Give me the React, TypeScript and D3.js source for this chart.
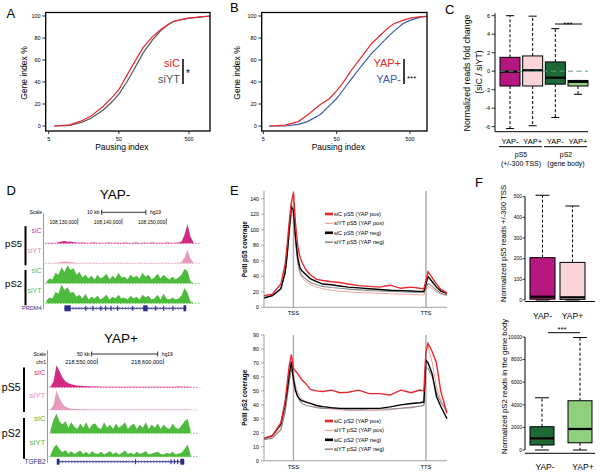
import React from "react";
import * as d3 from "d3";

const FONT = "'Liberation Sans', Arial, Helvetica, sans-serif";
const RED = "#e8262b";
const LTRED = "#f2a4a4";
const GRAY = "#8a8a8a";
const NAVY = "#2c2a8a";
const MAG = "#d22a84";
const MAG_LT = "#e59cbf";
const GREEN = "#4dbb3b";

// ---- A / B : cumulative pausing index ----
const pausingIdx = [6, 10, 15, 20, 30, 40, 50, 65, 80, 110, 150, 200, 250, 300, 400, 500, 700, 1000];
const cdfSiC = [0, 1, 5, 9, 18, 26, 33, 46, 56, 71, 81, 88, 92, 95, 97, 98, 99, 100];
const cdfSiYT = [0, 0.5, 3.5, 7, 14.5, 22, 29, 40, 50, 66, 78, 87, 92, 95, 97, 98, 99, 100];
const cdfYapPos = [0, 0.8, 4, 10, 19.5, 25, 32, 42, 51, 63, 75, 83, 89, 93, 96, 98, 99.5, 100];
const cdfYapNeg = [0, 0, 1.5, 4, 10.5, 18.5, 25, 35, 43, 55, 66, 74.5, 81, 86, 93, 96, 99, 100];
const cdfTicksY = [0, 20, 40, 60, 80, 100];
const cdfTicksX = [5, 50, 500];

// ---- C : fold change boxplots ----
const foldLabels = ["YAP-", "YAP+", "YAP-", "YAP+"];
const foldLow = [-6.2, -5.9, -5.0, -2.5];
const foldQ1 = [-1.6, -1.6, -1.4, -1.6];
const foldMed = [-0.05, 0.1, -0.7, -1.15];
const foldQ3 = [1.5, 1.65, 1.0, -1.0];
const foldHigh = [6.0, 5.95, 4.6, -1.0];
const foldTicks = [-6, -4, -2, 0, 2, 4, 6];
const foldFills = ["#b5187f", "#f9d5d8", "#1d6a36", "#8fcf80"];

// ---- D : genome browser ----
const prdm4Domain = [108122600, 108156500];
const prdm4Ticks = [108130000, 108140000, 108150000];
const prdm4Gene = [108126900, 108154600];
const prdm4Exons = [
  [108127000, 108128400], [108131700, 108131950], [108133300, 108133550], [108135100, 108135350],
  [108136200, 108136450], [108137400, 108137650], [108138900, 108139150], [108142300, 108142550],
  [108144800, 108145800], [108147500, 108147750], [108149300, 108149550], [108151400, 108151650],
  [108153900, 108154500],
];
const negS5siC = [3, 2, 3, 2, 5, 9, 12, 8, 10, 6, 4, 3, 4, 3, 2, 3, 4, 2, 3, 2, 3, 4, 2, 3, 3, 2, 4, 3, 2, 3, 4, 2, 3, 3, 2, 4, 3, 2, 3, 2, 4, 3, 2, 3, 4, 8, 45, 100, 35, 4];
const negS5siYT = [2, 2, 2, 3, 4, 7, 9, 8, 7, 4, 3, 2, 3, 2, 2, 2, 3, 2, 2, 2, 3, 2, 2, 2, 3, 2, 2, 3, 2, 2, 2, 3, 2, 2, 2, 3, 2, 2, 2, 2, 3, 2, 2, 2, 3, 6, 30, 70, 25, 3];
const negS2siC = [10, 25, 20, 55, 45, 85, 60, 95, 70, 80, 45, 60, 30, 45, 25, 40, 20, 45, 25, 35, 50, 20, 40, 25, 55, 30, 35, 20, 45, 30, 40, 25, 55, 35, 45, 20, 30, 50, 25, 45, 30, 20, 35, 20, 30, 45, 75, 65, 10, 2];
const negS2siYT = [15, 30, 25, 60, 50, 100, 70, 85, 55, 60, 35, 45, 25, 50, 20, 35, 25, 40, 20, 30, 45, 20, 35, 25, 45, 25, 30, 20, 40, 25, 35, 20, 45, 30, 40, 20, 25, 45, 20, 50, 25, 20, 30, 20, 25, 40, 80, 55, 10, 2];

const tgfb2Domain = [218513400, 218621700];
const tgfb2Ticks = [218550000, 218600000];
const tgfb2Gene = [218519300, 218615800];
const tgfb2Exons = [
  [218519300, 218521300], [218578600, 218579000], [218605400, 218605800],
  [218607900, 218608300], [218610400, 218610800], [218612900, 218615800],
];
const posS5siC = [4, 25, 100, 75, 45, 28, 18, 14, 10, 8, 7, 6, 5, 5, 4, 4, 4, 3, 3, 3, 3, 3, 3, 3, 3, 3, 3, 3, 3, 3, 3, 3, 3, 3, 3, 3, 3, 3, 3, 3, 3, 3, 3, 4, 3, 3, 3, 3];
const posS5siYT = [3, 20, 90, 55, 28, 15, 9, 6, 5, 4, 3, 3, 3, 2, 2, 2, 2, 2, 2, 2, 2, 2, 2, 2, 2, 2, 2, 2, 2, 2, 2, 2, 2, 2, 2, 2, 2, 2, 2, 2, 2, 2, 2, 2, 2, 2, 2, 2];
const posS2siC = [15, 60, 90, 55, 40, 55, 25, 50, 30, 20, 45, 25, 50, 20, 40, 45, 25, 20, 50, 25, 40, 20, 45, 25, 35, 50, 20, 35, 45, 20, 40, 25, 50, 20, 40, 25, 45, 20, 40, 25, 20, 45, 25, 20, 35, 55, 65, 15];
const posS2siYT = [8, 40, 55, 35, 20, 30, 15, 25, 12, 20, 28, 12, 22, 10, 25, 15, 12, 22, 10, 18, 25, 12, 20, 10, 18, 28, 12, 18, 10, 22, 12, 18, 25, 10, 15, 18, 22, 12, 10, 18, 12, 22, 10, 15, 18, 35, 55, 12];

// ---- E : metagene profiles ----
const metaBins = [0, 4, 8, 10, 11, 12, 13, 14, 15, 16, 17, 18, 20, 22, 25, 28, 32, 36, 40, 45, 50, 55, 60, 65, 70, 74, 76, 77, 78, 80, 82, 84, 87];
const tssBin = 14;
const ttsBin = 77;
const s5SiCPos = [15, 17, 30, 55, 80, 110, 135, 148, 108, 80, 66, 58, 48, 42, 36, 34.5, 33, 32, 30, 28, 27, 26, 28.5, 24.5, 26, 24.5, 24, 34, 46, 38, 30, 23, 18.5];
const s5SiYTPos = [14, 16, 24, 42, 65, 95, 120, 118, 82, 56, 44, 38, 33, 29, 26, 24, 22, 20.5, 20, 19, 18.5, 18, 17.5, 17, 16.5, 16, 16, 22, 27, 24, 20, 17, 15];
const s5SiCNeg = [12, 15, 24, 45, 68, 100, 130, 125, 90, 65, 52, 47, 42, 37, 33, 30, 29, 27.5, 26, 25, 24, 23, 22, 21.5, 21, 20.5, 20.5, 30, 39.5, 33, 26, 21, 18];
const s5SiYTNeg = [12, 15, 23, 43, 66, 98, 124, 122, 86, 60, 47, 41, 36, 32, 29, 27, 25.5, 24.5, 23.5, 22.5, 21.5, 21, 20.5, 20, 19.5, 19, 19, 25, 31, 27, 22, 18, 16];
const s2SiCPos = [16, 18, 27, 42, 55, 68, 76, 66, 64, 62.5, 60, 58, 55, 51, 50, 49.5, 50.5, 48.7, 49, 50.5, 48, 48, 47, 50.5, 48.7, 50.6, 50, 78, 84, 78, 70, 50, 34];
const s2SiYTPos = [15, 17, 23, 36, 47, 58, 68, 62, 54, 49, 46, 44, 42, 41, 39, 37.5, 37, 36.5, 36, 36, 36, 36, 36.5, 37.5, 38.5, 39, 40, 85, 82, 70, 53, 44, 35];
const s2SiCNeg = [16, 18, 26, 40, 50, 62, 71, 58, 50, 46, 44, 43, 42, 41, 39.5, 38.7, 38, 37.5, 37.5, 37.5, 37.5, 37.5, 38.5, 40, 41, 41.5, 42, 72, 70, 62, 46, 39, 30];
const s2SiYTNeg = [15, 16, 22, 34, 45, 56, 66, 60, 51, 46, 43, 41, 39.5, 39, 38, 37.5, 37.5, 37, 36.5, 36.5, 37, 37, 37, 37.5, 38, 39, 39.5, 67, 66, 60, 49, 42, 35];
const s5Ticks = [0, 20, 40, 60, 80, 100, 120, 140];
const s2Ticks = [0, 10, 20, 30, 40, 50, 60, 70, 80, 90];

// ---- F : read count boxplots ----
const fLabels = ["YAP-", "YAP+"];
const f5Low = [0, 0];
const f5Q1 = [4, 3];
const f5Med = [16, 13];
const f5Q3 = [205, 182];
const f5High = [507, 455];
const f5Ticks = [0, 100, 200, 300, 400, 500];
const f2Low = [0, 0];
const f2Q1 = [440, 640];
const f2Med = [1030, 1860];
const f2Q3 = [2060, 4360];
const f2High = [4620, 9950];
const f2Ticks = [0, 2000, 4000, 6000, 8000, 10000];

function CdfPanel({ x0, x1, ax5, ax500, a, b, colA, colB, nameA, nameB, keyX, stars, yLabX }: any) {
  const x = d3.scaleLog().domain([5, 500]).range([ax5, ax500]);
  const y = d3.scaleLinear().domain([0, 100]).range([126, 16]);
  const line = d3.line<number>().x((_, i) => x(pausingIdx[i])).y((d) => y(d));
  const id = `clip${Math.round(x0)}`;
  return (
    <g>
      <clipPath id={id}>
        <rect x={x0} y={12.5} width={x1 - x0} height={118.5} />
      </clipPath>
      <g clipPath={`url(#${id})`}>
        <path d={line(b) ?? ""} fill="none" stroke={colB} strokeWidth={1.2} />
        <path d={line(a) ?? ""} fill="none" stroke={colA} strokeWidth={1.2} />
      </g>
      <rect x={x0} y={12.5} width={x1 - x0} height={118.5} fill="none" stroke="#000" strokeWidth={1.3} />
      {cdfTicksY.map((t) => (
        <g key={t}>
          <line x1={x0 - 3.5} x2={x0} y1={y(t)} y2={y(t)} stroke="#000" strokeWidth={0.8} />
          <text x={x0 - 5} y={y(t)} dy="0.35em" fontSize={5.5} textAnchor="end">{t}</text>
        </g>
      ))}
      {cdfTicksX.map((t) => (
        <g key={t}>
          <line x1={x(t)} x2={x(t)} y1={131} y2={134} stroke="#000" strokeWidth={0.8} />
          <text x={x(t)} y={140.5} fontSize={5.5} textAnchor="middle">{t}</text>
        </g>
      ))}
      <text x={(x0 + x1) / 2 - 6} y={149.5} fontSize={8.5} textAnchor="middle">Pausing index</text>
      <text transform={`translate(${yLabX},73) rotate(-90)`} fontSize={8.5} textAnchor="middle">Gene index %</text>
      <text x={keyX} y={67} fontSize={11} fill={colA} textAnchor="end">{nameA}</text>
      <text x={keyX} y={82.5} fontSize={11} fill={colB} textAnchor="end">{nameB}</text>
      <line x1={keyX + 3} x2={keyX + 3} y1={59} y2={84} stroke="#000" strokeWidth={1.5} />
      <text x={keyX + 6} y={stars.length > 1 ? 81 : 77} fontSize={stars.length > 1 ? 8 : 10}>{stars}</text>
    </g>
  );
}

function Boxes({ cx, w, y, low, q1, med, q3, high, fills, capW }: any) {
  return (
    <g>
      {cx.map((c: number, i: number) => (
        <g key={i}>
          <line x1={c} x2={c} y1={y(q3[i])} y2={y(high[i])} stroke="#000" strokeWidth={1} strokeDasharray="3,2" />
          <line x1={c} x2={c} y1={y(q1[i])} y2={y(low[i])} stroke="#000" strokeWidth={1} strokeDasharray="3,2" />
          <line x1={c - capW / 2} x2={c + capW / 2} y1={y(high[i])} y2={y(high[i])} stroke="#000" strokeWidth={1} />
          <line x1={c - capW / 2} x2={c + capW / 2} y1={y(low[i])} y2={y(low[i])} stroke="#000" strokeWidth={1} />
          <rect x={c - w / 2} y={y(q3[i])} width={w} height={Math.max(1, y(q1[i]) - y(q3[i]))} fill={fills[i]} stroke="#000" strokeWidth={1} />
          <line x1={c - w / 2} x2={c + w / 2} y1={y(med[i])} y2={y(med[i])} stroke="#000" strokeWidth={2.2} />
        </g>
      ))}
    </g>
  );
}

function Track({ values, x, domain, base, h, color }: any) {
  const n = values.length;
  const step = (domain[1] - domain[0]) / n;
  const pts: [number, number][] = values.map((v: number, i: number) => [x(domain[0] + (i + 0.5) * step), v]);
  const area = d3
    .area<[number, number]>()
    .x((d) => d[0])
    .y0(base)
    .y1((d) => base - (d[1] / 100) * h);
  return (
    <g>
      <line x1={x(domain[0])} x2={x(domain[1]) + 6} y1={base} y2={base} stroke={color} strokeWidth={0.8} strokeDasharray="1.5,1.5" />
      <path d={area(pts) ?? ""} fill={color} />
    </g>
  );
}

function GeneModel({ x, gene, exons, y, dir }: any) {
  const chev = d3.range(gene[0], gene[1], (gene[1] - gene[0]) / 42).slice(1);
  return (
    <g>
      <line x1={x(gene[0])} x2={x(gene[1])} y1={y} y2={y} stroke={NAVY} strokeWidth={0.9} />
      {chev.map((g: number, i: number) => {
        const cx = x(g);
        return <path key={i} d={`M${cx - dir * 0.9},${y - 1.4} L${cx + dir * 0.9},${y} L${cx - dir * 0.9},${y + 1.4}`} fill="none" stroke={NAVY} strokeWidth={0.5} />;
      })}
      {exons.map((e: number[], i: number) => {
        const w = Math.max(1, x(e[1]) - x(e[0]));
        return <rect key={i} x={x(e[0])} y={y - (w > 2 ? 3 : 2.5)} width={w} height={w > 2 ? 6 : 5} fill={NAVY} />;
      })}
    </g>
  );
}

function Browser({ title, titleX, titleY, domain, range, ticks, gene, exons, geneName, tracks, bases, trackH, top, barKb, barStart, barY, tickY, showChr, big, groupBarX }: any) {
  const x = d3.scaleLinear().domain(domain).range(range);
  const fmt = d3.format(",");
  const labFs = big ? 10.5 : 9.5;
  const smFs = big ? 8 : 7;
  const colors = [MAG, MAG_LT, GREEN, GREEN];
  const labColors = ["#c03b8c", "#e08fb5", "#59b94b", "#59b94b"];
  const names = ["siC", "siYT", "siC", "siYT"];
  const left = range[0] - 1.5;
  return (
    <g>
      <text x={titleX} y={titleY} fontSize={13.5} textAnchor="middle">{title}</text>
      <text x={left - 1.5} y={barY + 1.8} fontSize={5} textAnchor="end">Scale</text>
      {showChr && <text x={left - 1.5} y={tickY + 2} fontSize={5} textAnchor="end">chr1</text>}
      <text x={x(barStart) - 2} y={barY + 1.8} fontSize={5.2} textAnchor="end">{barKb} kb</text>
      <line x1={x(barStart)} x2={x(barStart + barKb * 1000)} y1={barY} y2={barY} stroke="#333" strokeWidth={1} />
      <line x1={x(barStart)} x2={x(barStart)} y1={barY - 2.5} y2={barY + 2.5} stroke="#333" strokeWidth={1} />
      <line x1={x(barStart + barKb * 1000)} x2={x(barStart + barKb * 1000)} y1={barY - 2.5} y2={barY + 2.5} stroke="#333" strokeWidth={1} />
      <text x={x(barStart + barKb * 1000) + 4} y={barY + 1.8} fontSize={5}>hg19</text>
      {ticks.map((t: number) => (
        <g key={t}>
          <text x={x(t) - 1} y={tickY + 2} fontSize={big ? 5.6 : 4.9} textAnchor="end">{fmt(t)}</text>
          <line x1={x(t)} x2={x(t)} y1={tickY - 3} y2={tickY + 3} stroke="#333" strokeWidth={0.7} />
        </g>
      ))}
      <line x1={left} x2={left} y1={top} y2={bases[3] + 6} stroke="#555" strokeWidth={0.6} />
      {tracks.map((vals: number[], i: number) => (
        <Track key={i} values={vals} x={x} domain={domain} base={bases[i]} h={trackH} color={colors[i]} />
      ))}
      {names.map((n, i) => (
        <text key={i} x={left - 2} y={bases[i] - trackH * 0.55} fontSize={smFs} fill={labColors[i]} textAnchor="end">{n}</text>
      ))}
      <text x={groupBarX - 3.5} y={(bases[0] + bases[1]) / 2 - trackH * 0.35} fontSize={labFs} textAnchor="end">pS5</text>
      <text x={groupBarX - 3.5} y={(bases[2] + bases[3]) / 2 - trackH * 0.35} fontSize={labFs} textAnchor="end">pS2</text>
      <line x1={groupBarX} x2={groupBarX} y1={bases[0] - trackH * 0.9} y2={bases[1] + 2} stroke="#000" strokeWidth={2} />
      <line x1={groupBarX} x2={groupBarX} y1={bases[2] - trackH * 0.7} y2={bases[3] + 2} stroke="#000" strokeWidth={2} />
      <text x={left - 2} y={bases[3] + 7} fontSize={big ? 6.5 : 5.6} fill={NAVY} textAnchor="end">{geneName}</text>
      <GeneModel x={x} gene={gene} exons={exons} y={bases[3] + 5} dir={big ? 1 : -1} />
    </g>
  );
}

function Meta({ y0, y1, yMax, ticks, series, legend, legendTop, yLabel }: any) {
  const x = d3.scaleLinear().domain([0, 87]).range([264, 447]);
  const y = d3.scaleLinear().domain([0, yMax]).range([y0, y1]);
  const line = d3.line<number>().x((_, i) => x(metaBins[i])).y((d) => y(d));
  const colors = [LTRED, GRAY, "#000", RED];
  const widths = [1, 1.1, 1.4, 1.4];
  const legColors = [RED, LTRED, "#000", GRAY];
  const legW = [2.6, 1.3, 2.6, 1.5];
  return (
    <g>
      <line x1={x(tssBin)} x2={x(tssBin)} y1={y(yMax)} y2={y0} stroke="#aaa" strokeWidth={1.4} />
      <line x1={x(ttsBin)} x2={x(ttsBin)} y1={y(yMax)} y2={y0} stroke="#aaa" strokeWidth={1.4} />
      {series.map((s: number[], i: number) => (
        <path key={i} d={line(s) ?? ""} fill="none" stroke={colors[i]} strokeWidth={widths[i]} />
      ))}
      <line x1={264} x2={264} y1={y0} y2={y(yMax)} stroke="#888" strokeWidth={0.8} />
      <line x1={264} x2={447} y1={y0} y2={y0} stroke="#888" strokeWidth={0.8} />
      {ticks.map((t: number) => (
        <g key={t}>
          <line x1={261} x2={264} y1={y(t)} y2={y(t)} stroke="#888" strokeWidth={0.7} />
          <text x={259} y={y(t)} dy="0.35em" fontSize={5.3} textAnchor="end">{t}</text>
        </g>
      ))}
      <text x={x(tssBin)} y={y0 + 8} fontSize={5.8} textAnchor="middle">TSS</text>
      <text x={x(ttsBin)} y={y0 + 8} fontSize={5.8} textAnchor="middle">TTS</text>
      <text transform={`translate(247,${(y0 + y(yMax)) / 2}) rotate(-90)`} fontSize={6.3} fontWeight="bold" textAnchor="middle">{yLabel}</text>
      {legend.map((l: string, i: number) => (
        <g key={i}>
          <line x1={325} x2={333} y1={legendTop + i * 9.4} y2={legendTop + i * 9.4} stroke={legColors[i]} strokeWidth={legW[i]} />
          <text x={334} y={legendTop + i * 9.4} dy="0.35em" fontSize={5.7}>{l}</text>
        </g>
      ))}
    </g>
  );
}

export default function App() {
  // C scales
  const cy = d3.scaleLinear().domain([-6, 6]).range([126.7, 15.7]);
  const cx = d3.scalePoint<number>().domain([0, 1, 2, 3]).range([510, 578]);
  const cxs = [0, 1, 2, 3].map((i) => cx(i) as number);
  // F scales
  const f5y = d3.scaleLinear().domain([0, 500]).range([300, 196.7]);
  const f2y = d3.scaleLinear().domain([0, 10000]).range([450, 337]);
  const fTop = d3.scalePoint<number>().domain([0, 1]).range([542.5, 572.5]);
  const fBot = d3.scalePoint<number>().domain([0, 1]).range([542, 580]);
  const f5x = [0, 1].map((i) => fTop(i) as number);
  const f2x = [0, 1].map((i) => fBot(i) as number);

  return (
    <svg width={600} height={472} style={{ position: "absolute", left: 0, top: 0, background: "#fff" }} fontFamily={FONT}>
      <rect width={600} height={472} fill="#fff" />
      {/* panel letters */}
      <text x={6.5} y={18} fontSize={13}>A</text>
      <text x={230} y={12} fontSize={13}>B</text>
      <text x={445} y={13.5} fontSize={13}>C</text>
      <text x={6.5} y={195} fontSize={13}>D</text>
      <text x={230} y={195} fontSize={13}>E</text>
      <text x={475} y={187} fontSize={13}>F</text>

      <CdfPanel x0={45.7} x1={210} ax5={48.7} ax500={189} a={cdfSiC} b={cdfSiYT} colA={RED} colB="#555" nameA="siC" nameB="siYT" keyX={180} stars="*" yLabX={27} />
      <CdfPanel x0={261.7} x1={427} ax5={263.3} ax500={410} a={cdfYapPos} b={cdfYapNeg} colA={RED} colB="#3b5ba9" nameA="YAP+" nameB="YAP-" keyX={401} stars="***" yLabX={240} />

      {/* C */}
      <g>
        <line x1={495} x2={495} y1={13.3} y2={131.7} stroke="#000" strokeWidth={1} />
        <line x1={495} x2={588} y1={131.7} y2={131.7} stroke="#000" strokeWidth={1} />
        {foldTicks.map((t) => (
          <g key={t}>
            <line x1={491.5} x2={495} y1={cy(t)} y2={cy(t)} stroke="#000" strokeWidth={0.8} />
            <text x={490} y={cy(t)} dy="0.35em" fontSize={5.5} textAnchor="end">{t}</text>
          </g>
        ))}
        <Boxes cx={cxs} w={20} y={cy} low={foldLow} q1={foldQ1} med={foldMed} q3={foldQ3} high={foldHigh} fills={foldFills} capW={8} />
        <line x1={500} x2={588} y1={cy(0)} y2={cy(0)} stroke="#5f9a8c" strokeWidth={1} strokeDasharray="5,3.5" />
        <line x1={555} x2={582} y1={24} y2={24} stroke="#000" strokeWidth={1} />
        <text x={568} y={26.5} fontSize={8} textAnchor="middle">***</text>
        {foldLabels.map((l, i) => (
          <text key={i} x={cxs[i]} y={144} fontSize={7.5} textAnchor="middle">{l}</text>
        ))}
        <line x1={499} x2={542} y1={146.7} y2={146.7} stroke="#000" strokeWidth={1} />
        <line x1={544} x2={587} y1={146.7} y2={146.7} stroke="#000" strokeWidth={1} />
        <text x={521} y={156.5} fontSize={7} textAnchor="middle">pS5</text>
        <text x={521} y={165.5} fontSize={7} textAnchor="middle">(+/-300 TSS)</text>
        <text x={566} y={156.5} fontSize={7} textAnchor="middle">pS2</text>
        <text x={566} y={165.5} fontSize={7} textAnchor="middle">(gene body)</text>
        <text transform="translate(469.5,73) rotate(-90)" fontSize={8.8} textAnchor="middle">Normalized reads fold change</text>
        <text transform="translate(482,72) rotate(-90)" fontSize={8.8} textAnchor="middle">(siC / siYT)</text>
      </g>

      {/* D */}
      <Browser title="YAP-" titleX={115} titleY={199} domain={prdm4Domain} range={[45, 195]} ticks={prdm4Ticks}
        gene={prdm4Gene} exons={prdm4Exons} geneName="PRDM4"
        tracks={[negS5siC, negS5siYT, negS2siC, negS2siYT]} bases={[243.3, 263.3, 283.3, 303.3]} trackH={19}
        top={213} barKb={10} barStart={108135400} barY={212.3} tickY={221.5} showChr={false} big={false} groupBarX={25.5} />
      <Browser title="YAP+" titleX={121} titleY={343} domain={tgfb2Domain} range={[49, 192]} ticks={tgfb2Ticks}
        gene={tgfb2Gene} exons={tgfb2Exons} geneName="TGFB2"
        tracks={[posS5siC, posS5siYT, posS2siC, posS2siYT]} bases={[387.3, 410, 433.3, 456.7]} trackH={22}
        top={350} barKb={50} barStart={218545700} barY={354} tickY={361.5} showChr={true} big={true} groupBarX={24} />

      {/* E */}
      <Meta y0={307.3} y1={191} yMax={150} ticks={s5Ticks} series={[s5SiYTPos, s5SiYTNeg, s5SiCNeg, s5SiCPos]}
        legend={["siC pS5 (YAP pos)", "siYT pS5 (YAP pos)", "siC pS5 (YAP neg)", "siYT pS5 (YAP neg)"]}
        legendTop={214} yLabel="PolII pS5 coverage" />
      <Meta y0={460.7} y1={335} yMax={90} ticks={s2Ticks} series={[s2SiYTPos, s2SiYTNeg, s2SiCNeg, s2SiCPos]}
        legend={["siC pS2 (YAP pos)", "siYT pS2 (YAP pos)", "siC pS2 (YAP neg)", "siYT pS2 (YAP neg)"]}
        legendTop={421} yLabel="PolII pS2 coverage" />

      {/* F top */}
      <g>
        <line x1={525} x2={525} y1={f5y(0)} y2={f5y(500)} stroke="#000" strokeWidth={1} />
        <line x1={525} x2={595} y1={301.5} y2={301.5} stroke="#000" strokeWidth={1} />
        {f5Ticks.map((t) => (
          <g key={t}>
            <line x1={522.5} x2={525} y1={f5y(t)} y2={f5y(t)} stroke="#000" strokeWidth={0.8} />
            <text x={522} y={f5y(t)} dy="0.35em" fontSize={5} textAnchor="end">{t}</text>
          </g>
        ))}
        <Boxes cx={f5x} w={25} y={f5y} low={f5Low} q1={f5Q1} med={f5Med} q3={f5Q3} high={f5High} fills={["#b5187f", "#f9d5d8"]} capW={14} />
        {fLabels.map((l, i) => (
          <text key={i} x={f5x[i]} y={319} fontSize={8.5} textAnchor="middle">{l}</text>
        ))}
        <text transform="translate(505.5,243.5) rotate(-90)" fontSize={7.7} textAnchor="middle">Normalized pS5 reads +/-300 TSS</text>
      </g>

      {/* F bottom */}
      <g>
        <line x1={525} x2={525} y1={f2y(0)} y2={f2y(10000)} stroke="#000" strokeWidth={1} />
        <line x1={525} x2={595} y1={453.3} y2={453.3} stroke="#000" strokeWidth={1} />
        {f2Ticks.map((t) => (
          <g key={t}>
            <line x1={522.5} x2={525} y1={f2y(t)} y2={f2y(t)} stroke="#000" strokeWidth={0.8} />
            <text x={522} y={f2y(t)} dy="0.35em" fontSize={5} textAnchor="end">{t}</text>
          </g>
        ))}
        <Boxes cx={f2x} w={24} y={f2y} low={f2Low} q1={f2Q1} med={f2Med} q3={f2Q3} high={f2High} fills={["#1d6a36", "#8fcf80"]} capW={14} />
        <line x1={548} x2={580} y1={332.7} y2={332.7} stroke="#000" strokeWidth={1} />
        <text x={562} y={332} fontSize={7.5} textAnchor="middle">***</text>
        {fLabels.map((l, i) => (
          <text key={i} x={f2x[i] + 3} y={470} fontSize={8.5} textAnchor="middle">{l}</text>
        ))}
        <text transform="translate(507,386.5) rotate(-90)" fontSize={7.7} textAnchor="middle">Normalized pS2 reads in the gene body</text>
      </g>
    </svg>
  );
}
